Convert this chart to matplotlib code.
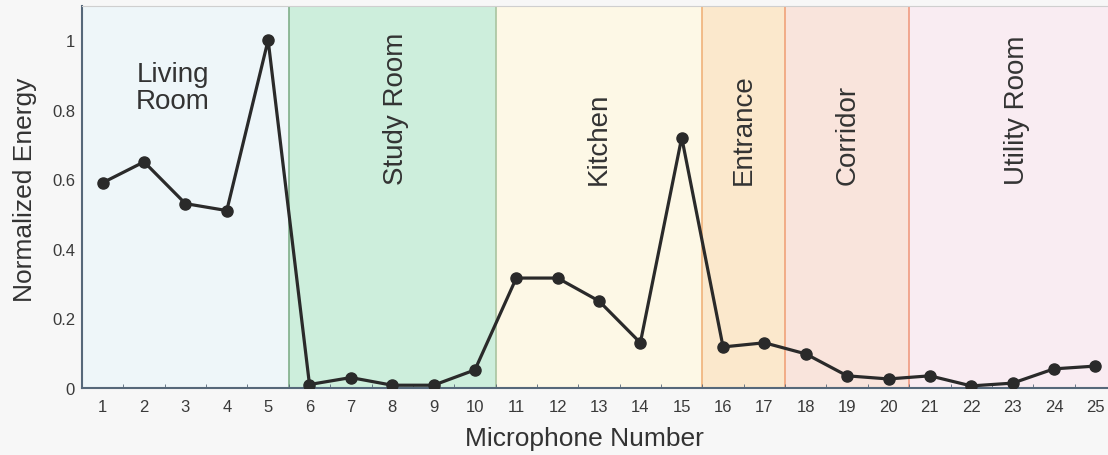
import matplotlib
matplotlib.use("Agg")
import matplotlib.pyplot as plt
import numpy as np

mics = list(range(1, 26))
energy = [0.59, 0.65, 0.53, 0.51, 1.00, 0.01, 0.03, 0.008, 0.008, 0.052,
          0.316, 0.316, 0.25, 0.13, 0.72, 0.118, 0.13, 0.098, 0.035, 0.026,
          0.035, 0.006, 0.014, 0.055, 0.063]

room_names = ["Living\nRoom", "Study Room", "Kitchen", "Entrance", "Corridor", "Utility Room"]
room_starts = [0.5, 5.5, 10.5, 15.5, 17.5, 20.5]
room_ends = [5.5, 10.5, 15.5, 17.5, 20.5, 25.6]
room_colors = ["#eef6f9", "#cdeedc", "#fdf8e6", "#fbe8cc", "#f9e4dc", "#f9ecf2"]
edge_colors = [None, "#7fae8a", "#a9c4a0", "#f0b27a", "#f0a27a", "#f09a80"]
label_x = [2.7, 8.1, 13.0, 16.5, 19.0, 23.1]

fig = plt.figure(figsize=(11.08, 4.56), dpi=100)
fig.patch.set_facecolor("#f7f7f7")
ax = fig.add_axes([82/1108, 1-389/456, (1116-82)/1108, (389-7)/456])
ax.set_xlim(0.5, 25.5)
ax.set_ylim(0, 1.098)

for s, e, c in zip(room_starts, room_ends, room_colors):
    ax.axvspan(s, e, color=c, lw=0, zorder=0)
for s, ec in zip(room_starts, edge_colors):
    if ec:
        ax.axvline(s, color=ec, lw=1.2, zorder=1)

ax.plot(mics, energy, color="#2a2a2a", lw=2.3, marker="o", ms=8, zorder=3)

txtc = "#333333"
ax.text(label_x[0], 0.865, room_names[0], ha="center", va="center", fontsize=20,
        color=txtc, family="Liberation Sans", linespacing=1.05)
for n, x in zip(room_names[1:], label_x[1:]):
    ax.text(x, 0.586, n, rotation=90, ha="center", va="bottom", fontsize=20,
            color=txtc, family="Liberation Sans")

ax.set_xticks(mics)
ax.set_xticklabels([str(m) for m in mics], family="Liberation Sans", fontsize=12, color="#3a3a3a")
ax.set_xticks(np.arange(1.5, 25.5, 1), minor=True)
ax.tick_params(axis="x", which="major", length=0, pad=8)
ax.tick_params(axis="x", which="minor", direction="in", length=3, color="#556677")
ax.set_yticks([0, 0.2, 0.4, 0.6, 0.8, 1.0])
ax.set_yticklabels(["0", "0.2", "0.4", "0.6", "0.8", "1"], family="Liberation Sans",
                   fontsize=12, color="#3a3a3a")
ax.tick_params(axis="y", length=0, pad=5)

for side in ["left", "bottom"]:
    ax.spines[side].set_color("#56687a")
    ax.spines[side].set_linewidth(1.5)
ax.spines["top"].set_color("#cfcfcf")
ax.spines["right"].set_visible(False)

ax.set_xlabel("Microphone Number", family="Liberation Sans", fontsize=19, color=txtc)
ax.set_ylabel("Normalized Energy", family="Liberation Sans", fontsize=19, color=txtc)
ax.xaxis.set_label_coords(0.4855, -0.1)
ax.yaxis.set_label_coords(-0.044, 0.521)

fig.savefig("out.png", dpi=100, facecolor=fig.get_facecolor())
